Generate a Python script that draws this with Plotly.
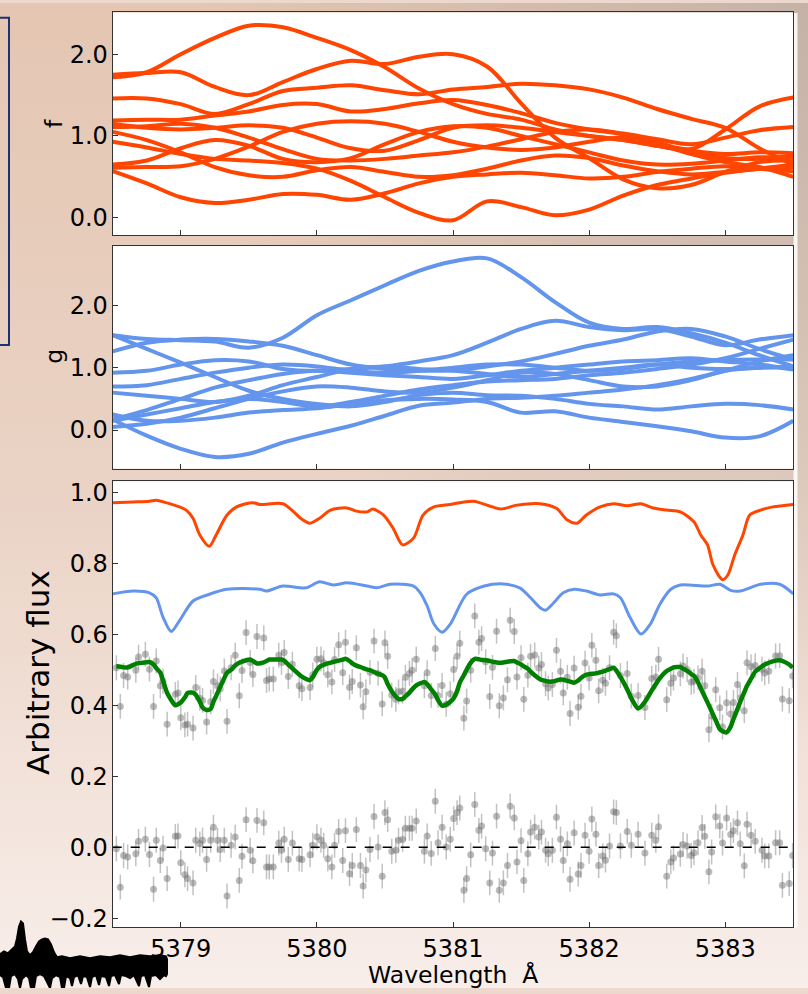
import base64
import plotly.graph_objects as go

W, H = 808, 994

# ---------------------------------------------------------------- data
# wavelength knots shared by the posterior draws of f and g
wave_grid = [5378.50, 5378.75, 5379.00, 5379.25, 5379.50, 5379.75, 5380.00,
             5380.25, 5380.50, 5380.75, 5381.00, 5381.25, 5381.50, 5381.75,
             5382.00, 5382.25, 5382.50, 5382.75, 5383.00, 5383.25, 5383.50]

# posterior draws of f
f01 = [1.72, 1.78, 2.00, 2.20, 2.35, 2.33, 2.20, 2.05, 1.84, 1.58, 1.39, 1.27, 1.20, 1.08, 1.00, 0.95, 0.88, 0.80, 0.73, 0.72, 0.76]
f02 = [1.75, 1.77, 1.78, 1.60, 1.50, 1.66, 1.82, 1.92, 1.88, 1.97, 2.00, 1.85, 1.40, 0.98, 0.73, 0.47, 0.36, 0.40, 0.56, 0.68, 0.70]
f03 = [1.46, 1.46, 1.39, 1.27, 1.39, 1.55, 1.59, 1.62, 1.56, 1.51, 1.57, 1.60, 1.64, 1.62, 1.57, 1.47, 1.33, 1.21, 1.10, 0.85, 0.65]
f04 = [1.19, 1.20, 1.20, 1.25, 1.30, 1.38, 1.39, 1.30, 1.33, 1.40, 1.44, 1.38, 1.28, 1.16, 1.08, 1.02, 0.92, 0.84, 1.08, 1.36, 1.47]
f05 = [1.15, 1.10, 1.08, 1.10, 1.13, 1.10, 0.98, 0.85, 0.82, 0.95, 1.10, 1.13, 1.10, 1.05, 1.00, 0.95, 0.88, 0.82, 0.78, 0.80, 0.79]
f06 = [1.11, 1.12, 1.15, 1.10, 0.98, 0.84, 0.72, 0.70, 0.72, 0.76, 0.80, 0.87, 0.96, 1.05, 1.08, 1.03, 0.96, 0.90, 0.98, 1.07, 1.11]
f07 = [0.93, 0.86, 0.78, 0.72, 0.70, 0.67, 0.60, 0.45, 0.25, 0.06, -0.03, 0.20, 0.13, 0.03, 0.10, 0.27, 0.40, 0.48, 0.55, 0.60, 0.62]
f08 = [0.57, 0.42, 0.25, 0.18, 0.22, 0.29, 0.28, 0.22, 0.30, 0.42, 0.50, 0.53, 0.55, 0.52, 0.48, 0.50, 0.56, 0.60, 0.63, 0.60, 0.57]
f09 = [0.65, 0.70, 0.85, 0.95, 0.88, 0.72, 0.68, 0.73, 0.90, 1.05, 1.12, 1.10, 1.00, 0.90, 0.80, 0.70, 0.65, 0.66, 0.70, 0.74, 0.73]
f10 = [0.61, 0.62, 0.63, 0.72, 0.87, 1.05, 1.15, 1.18, 1.15, 1.05, 0.93, 0.86, 0.83, 0.86, 0.93, 0.98, 0.90, 0.78, 0.68, 0.62, 0.50]
f11 = [1.05, 0.95, 0.80, 0.62, 0.52, 0.50, 0.58, 0.62, 0.56, 0.50, 0.52, 0.60, 0.70, 0.76, 0.73, 0.64, 0.57, 0.53, 0.56, 0.60, 0.65]

# posterior draws of g
g01 = [1.52, 1.46, 1.44, 1.42, 1.32, 1.48, 1.84, 2.08, 2.32, 2.55, 2.70, 2.75, 2.45, 2.05, 1.72, 1.62, 1.65, 1.55, 1.40, 1.20, 1.02]
g02 = [1.52, 1.30, 1.08, 0.85, 0.63, 0.50, 0.42, 0.38, 0.45, 0.56, 0.60, 0.56, 0.55, 0.50, 0.42, 0.38, 0.33, 0.38, 0.42, 0.40, 0.33]
g03 = [1.26, 1.40, 1.45, 1.46, 1.42, 1.35, 1.20, 1.05, 0.98, 0.95, 0.96, 1.02, 1.10, 1.22, 1.35, 1.45, 1.58, 1.62, 1.50, 1.30, 1.13]
g04 = [0.92, 0.95, 1.05, 1.12, 1.10, 0.98, 0.95, 0.98, 1.02, 1.10, 1.20, 1.40, 1.62, 1.75, 1.65, 1.60, 1.62, 1.50, 1.36, 1.45, 1.52]
g05 = [0.70, 0.72, 0.82, 0.92, 1.00, 1.05, 1.02, 0.95, 0.92, 0.95, 1.00, 1.05, 1.05, 1.00, 0.95, 0.98, 1.05, 1.10, 1.12, 1.13, 1.13]
g06 = [0.60, 0.55, 0.50, 0.45, 0.55, 0.72, 0.85, 0.98, 1.02, 0.98, 0.95, 0.90, 0.85, 0.90, 0.95, 1.00, 1.05, 1.00, 0.98, 1.00, 1.02]
g07 = [0.17, 0.32, 0.50, 0.68, 0.80, 0.90, 0.95, 0.92, 0.88, 0.85, 0.82, 0.88, 0.95, 1.00, 1.05, 1.10, 1.12, 1.15, 1.10, 1.05, 0.97]
g08 = [0.15, 0.25, 0.35, 0.45, 0.50, 0.45, 0.38, 0.45, 0.55, 0.65, 0.72, 0.78, 0.80, 0.82, 0.88, 0.92, 0.98, 1.05, 1.15, 1.30, 1.45]
g09 = [0.17, -0.09, -0.30, -0.43, -0.38, -0.20, -0.06, 0.07, 0.23, 0.39, 0.44, 0.50, 0.52, 0.55, 0.60, 0.65, 0.72, 0.82, 0.95, 1.10, 1.20]
g10 = [0.25, 0.15, 0.15, 0.20, 0.28, 0.32, 0.35, 0.42, 0.48, 0.50, 0.49, 0.45, 0.28, 0.30, 0.20, 0.13, 0.06, -0.02, -0.12, -0.10, 0.15]
g11 = [0.05, 0.10, 0.20, 0.35, 0.50, 0.62, 0.70, 0.68, 0.62, 0.60, 0.68, 0.80, 0.92, 0.90, 0.80, 0.70, 0.70, 0.80, 0.95, 1.00, 1.00]

# component spectra (f and g) shifted for display
f_spec_wave = [5378.50, 5378.65, 5378.77, 5378.82, 5378.89, 5378.99, 5379.04, 5379.09, 5379.14, 5379.21,
               5379.26, 5379.34, 5379.41, 5379.53, 5379.58, 5379.75, 5379.83, 5379.88, 5379.95, 5380.02,
               5380.10, 5380.22, 5380.29, 5380.37, 5380.41, 5380.49, 5380.56, 5380.63, 5380.71, 5380.78,
               5380.86, 5380.98, 5381.15, 5381.35, 5381.47, 5381.64, 5381.76, 5381.84, 5381.91, 5381.98,
               5382.08, 5382.18, 5382.28, 5382.38, 5382.47, 5382.57, 5382.67, 5382.77, 5382.82, 5382.87,
               5382.91, 5382.98, 5383.02, 5383.07, 5383.13, 5383.18, 5383.26, 5383.35, 5383.50]
f_spec_flux = [0.971, 0.973, 0.975, 0.978, 0.971, 0.959, 0.950, 0.927, 0.880, 0.848,
               0.880, 0.936, 0.959, 0.971, 0.966, 0.968, 0.945, 0.927, 0.913, 0.927,
               0.950, 0.956, 0.947, 0.945, 0.953, 0.936, 0.899, 0.852, 0.871, 0.936,
               0.959, 0.966, 0.975, 0.953, 0.964, 0.968, 0.955, 0.922, 0.913, 0.936,
               0.959, 0.968, 0.962, 0.968, 0.956, 0.950, 0.945, 0.917, 0.880, 0.852,
               0.796, 0.754, 0.768, 0.824, 0.880, 0.936, 0.950, 0.959, 0.966]

g_spec_wave = [5378.50, 5378.65, 5378.77, 5378.82, 5378.87, 5378.93, 5378.99, 5379.09, 5379.21, 5379.34,
               5379.58, 5379.63, 5379.75, 5379.92, 5380.02, 5380.12, 5380.22, 5380.37, 5380.44, 5380.54,
               5380.71, 5380.76, 5380.81, 5380.86, 5380.92, 5380.98, 5381.10, 5381.23, 5381.37, 5381.49,
               5381.57, 5381.64, 5381.68, 5381.74, 5381.81, 5381.89, 5381.98, 5382.08, 5382.18, 5382.23,
               5382.30, 5382.38, 5382.45, 5382.52, 5382.60, 5382.67, 5382.87, 5382.96, 5383.04, 5383.11,
               5383.26, 5383.40, 5383.50]
g_spec_flux = [0.714, 0.722, 0.717, 0.703, 0.648, 0.608, 0.638, 0.694, 0.713, 0.727,
               0.727, 0.722, 0.736, 0.731, 0.748, 0.739, 0.745, 0.736, 0.731, 0.741,
               0.736, 0.717, 0.680, 0.629, 0.606, 0.629, 0.713, 0.736, 0.742, 0.731,
               0.703, 0.675, 0.668, 0.689, 0.717, 0.727, 0.722, 0.711, 0.714, 0.703,
               0.648, 0.601, 0.629, 0.685, 0.727, 0.739, 0.736, 0.741, 0.724, 0.722,
               0.741, 0.741, 0.714]

# observed spectrum: wavelengths, best-fit model at each pixel, residuals
wave_obs = [
    5378.527, 5378.556, 5378.580, 5378.610, 5378.670, 5378.690, 5378.740, 5378.770, 5378.800, 5378.820,
    5378.850, 5378.870, 5378.900, 5378.960, 5378.980, 5379.000, 5379.030, 5379.050, 5379.090, 5379.110,
    5379.140, 5379.160, 5379.190, 5379.220, 5379.240, 5379.270, 5379.290, 5379.320, 5379.340, 5379.370,
    5379.400, 5379.430, 5379.450, 5379.480, 5379.510, 5379.530, 5379.560, 5379.610, 5379.630, 5379.650,
    5379.680, 5379.720, 5379.740, 5379.760, 5379.790, 5379.820, 5379.870, 5379.890, 5379.950, 5379.970,
    5380.000, 5380.030, 5380.050, 5380.080, 5380.110, 5380.130, 5380.160, 5380.190, 5380.210, 5380.240,
    5380.260, 5380.290, 5380.320, 5380.340, 5380.360, 5380.390, 5380.420, 5380.450, 5380.480, 5380.500,
    5380.520, 5380.550, 5380.580, 5380.600, 5380.630, 5380.650, 5380.680, 5380.700, 5380.730, 5380.790,
    5380.810, 5380.840, 5380.870, 5380.890, 5380.920, 5380.950, 5380.980, 5381.005, 5381.030, 5381.050,
    5381.080, 5381.100, 5381.130, 5381.160, 5381.190, 5381.210, 5381.240, 5381.270, 5381.290, 5381.320,
    5381.340, 5381.370, 5381.400, 5381.420, 5381.450, 5381.470, 5381.500, 5381.520, 5381.550, 5381.570,
    5381.600, 5381.630, 5381.650, 5381.680, 5381.700, 5381.730, 5381.760, 5381.790, 5381.810, 5381.840,
    5381.860, 5381.890, 5381.920, 5381.940, 5381.970, 5382.000, 5382.020, 5382.050, 5382.070, 5382.100,
    5382.120, 5382.150, 5382.180, 5382.200, 5382.230, 5382.280, 5382.310, 5382.360, 5382.410, 5382.460,
    5382.490, 5382.510, 5382.570, 5382.600, 5382.620, 5382.670, 5382.690, 5382.720, 5382.750, 5382.770,
    5382.800, 5382.830, 5382.850, 5382.880, 5382.900, 5382.930, 5382.960, 5382.980, 5383.010, 5383.040,
    5383.060, 5383.090, 5383.110, 5383.140, 5383.160, 5383.190, 5383.220, 5383.270, 5383.290, 5383.320,
    5383.370, 5383.400, 5383.420, 5383.470, 5383.495]

fit_obs = [
    0.510, 0.509, 0.507, 0.507, 0.517, 0.519, 0.521, 0.522, 0.515, 0.505,
    0.492, 0.470, 0.435, 0.400, 0.403, 0.408, 0.422, 0.435, 0.436, 0.430,
    0.410, 0.394, 0.387, 0.390, 0.410, 0.435, 0.452, 0.477, 0.492, 0.500,
    0.512, 0.520, 0.523, 0.527, 0.529, 0.525, 0.518, 0.521, 0.525, 0.529,
    0.529, 0.529, 0.529, 0.526, 0.515, 0.504, 0.487, 0.481, 0.471, 0.480,
    0.500, 0.511, 0.514, 0.518, 0.521, 0.523, 0.526, 0.529, 0.531, 0.525,
    0.518, 0.512, 0.508, 0.505, 0.502, 0.499, 0.494, 0.489, 0.485, 0.478,
    0.460, 0.440, 0.425, 0.418, 0.418, 0.425, 0.436, 0.445, 0.456, 0.466,
    0.460, 0.445, 0.430, 0.415, 0.399, 0.402, 0.410, 0.420, 0.440, 0.464,
    0.485, 0.500, 0.520, 0.531, 0.530, 0.528, 0.527, 0.525, 0.523, 0.521,
    0.520, 0.521, 0.523, 0.524, 0.525, 0.521, 0.515, 0.510, 0.503, 0.495,
    0.485, 0.476, 0.472, 0.469, 0.467, 0.467, 0.470, 0.473, 0.472, 0.469,
    0.467, 0.464, 0.470, 0.477, 0.485, 0.488, 0.489, 0.490, 0.492, 0.495,
    0.498, 0.502, 0.506, 0.498, 0.480, 0.445, 0.420, 0.391, 0.410, 0.442,
    0.460, 0.472, 0.497, 0.503, 0.507, 0.508, 0.503, 0.497, 0.488, 0.483,
    0.465, 0.440, 0.424, 0.400, 0.383, 0.358, 0.333, 0.327, 0.324, 0.340,
    0.361, 0.390, 0.410, 0.437, 0.455, 0.475, 0.495, 0.510, 0.515, 0.520,
    0.526, 0.527, 0.525, 0.515, 0.506]

resid_obs = [
    -0.004, -0.112, -0.023, -0.027, -0.018, 0.017, 0.023, -0.020, -0.118, 0.020,
    -0.037, -0.002, -0.088, 0.031, 0.032, -0.043, -0.077, -0.088, -0.100, 0.020,
    0.010, 0.020, -0.034, 0.020, 0.057, 0.020, -0.006, 0.020, -0.137, 0.006,
    0.029, -0.093, -0.025, 0.078, -0.008, -0.038, 0.076, 0.069, -0.055, -0.055,
    -0.055, 0.012, -0.008, 0.023, -0.034, 0.012, -0.032, -0.034, -0.021, 0.006,
    0.030, 0.020, 0.006, -0.032, -0.055, 0.006, 0.045, -0.037, 0.047, -0.074,
    -0.051, 0.050, -0.051, -0.109, -0.064, -0.006, 0.087, 0.001, -0.081, 0.098,
    0.078, -0.011, -0.008, 0.020, 0.022, 0.054, 0.054, 0.054, 0.074, -0.011,
    0.032, -0.017, 0.130, 0.013, 0.057, 0.001, 0.023, 0.081, 0.098, 0.111,
    -0.121, -0.088, -0.021, 0.121, 0.048, 0.060, -0.004, -0.100, -0.016, 0.088,
    -0.121, -0.100, -0.051, 0.116, 0.083, -0.041, 0.019, -0.093, -0.018, 0.043,
    0.057, 0.029, 0.043, -0.008, -0.018, -0.008, 0.085, 0.023, -0.037, 0.010,
    -0.090, 0.041, -0.075, -0.051, 0.034, -0.011, 0.080, 0.037, -0.051, -0.024,
    -0.036, 0.004, 0.100, 0.098, 0.004, 0.045, 0.006, 0.037, -0.016, 0.034,
    0.020, 0.058, -0.081, -0.041, -0.030, -0.019, 0.008, 0.004, -0.023, -0.015,
    0.013, 0.056, 0.031, -0.069, -0.013, 0.086, 0.060, 0.012, 0.083, 0.036,
    0.047, 0.069, 0.010, -0.052, 0.065, 0.034, 0.017, -0.008, -0.024, -0.024,
    0.013, 0.013, -0.107, -0.102, -0.023]

flux_err = 0.035

# the observed flux is the fit plus its residual
flux_obs = [m + r for m, r in zip(fit_obs, resid_obs)]

# small raw spectrum strip in the lower-left corner (pixel index, counts)
strip_top_x = [0, 4, 8, 12, 15, 17, 19, 21, 23, 25, 27, 30, 33, 36, 39, 42, 45, 48, 51, 54, 57,
               62, 70, 80, 90, 100, 110, 120, 130, 140, 150, 160, 166, 168]
strip_top = [34, 37, 35, 39, 42, 50, 62, 67, 65, 49, 37, 33, 36, 42, 47, 49, 50, 49, 44, 36, 31,
             32, 30, 32, 30, 32, 31, 33, 31, 33, 32, 33, 32, 26]
strip_bot_x = [0, 3, 6, 9, 11, 15, 18, 20, 22, 26, 29, 31, 34, 36, 40, 44, 48, 50, 52, 56, 60, 62,
               64, 66, 70, 72, 74, 78, 81, 83, 87, 90, 92, 96, 99, 101, 106, 109, 111, 115, 119,
               121, 126, 130, 134, 139, 141, 145, 149, 151, 156, 160, 164, 166, 168]
strip_bot = [13, 11, 0, 0, 12, 14, 9, 0, 9, 13, 10, 0, 0, 12, 14, 12, 4, 0, 10, 13, 11, 0,
             0, 12, 10, 2, 11, 13, 4, 12, 11, 1, 11, 13, 3, 12, 11, 2, 12, 13, 4,
             13, 12, 10, 13, 2, 12, 13, 1, 12, 13, 9, 13, 12, 16]

x_ticks = [5379, 5380, 5381, 5382, 5383]

# ---------------------------------------------------------------- styling
ORANGE = "#FF4500"
BLUE = "#6495ED"
GREEN = "#008000"
FONT = "DejaVu Sans"
AXC = "#333333"


def px_x(p):
    return p / W


def px_y(p):
    return 1 - p / H


X_DOM = [px_x(112.7), px_x(793.3)]
F_DOM = [px_y(234.5), px_y(9.5)]
G_DOM = [px_y(470.0), px_y(245.0)]
S_DOM = [px_y(932.7), px_y(482.7)]

fig = go.Figure()

for draw in [f01, f02, f03, f04, f05, f06, f07, f08, f09, f10, f11]:
    fig.add_trace(go.Scatter(x=wave_grid, y=draw, mode="lines", xaxis="x", yaxis="y",
                             line=dict(color=ORANGE, width=4, shape="spline", smoothing=1.0),
                             showlegend=False, hoverinfo="skip"))

for draw in [g01, g02, g03, g04, g05, g06, g07, g08, g09, g10, g11]:
    fig.add_trace(go.Scatter(x=wave_grid, y=draw, mode="lines", xaxis="x2", yaxis="y2",
                             line=dict(color=BLUE, width=4, shape="spline", smoothing=1.0),
                             showlegend=False, hoverinfo="skip"))

point_style = dict(color="rgba(105,105,105,0.45)", size=7, line=dict(width=0))
bar_style = dict(type="constant", value=flux_err, color="rgba(120,120,120,0.45)",
                 thickness=1.5, width=0)

# observed spectrum and residuals
fig.add_trace(go.Scatter(x=wave_obs, y=flux_obs, mode="markers", xaxis="x3", yaxis="y3",
                         marker=point_style, error_y=bar_style, showlegend=False))
fig.add_trace(go.Scatter(x=wave_obs, y=resid_obs, mode="markers", xaxis="x3", yaxis="y3",
                         marker=point_style, error_y=bar_style, showlegend=False))

# component spectra and the combined fit
fig.add_trace(go.Scatter(x=f_spec_wave, y=f_spec_flux, mode="lines", xaxis="x3", yaxis="y3",
                         line=dict(color=ORANGE, width=3, shape="spline", smoothing=0.8),
                         showlegend=False))
fig.add_trace(go.Scatter(x=g_spec_wave, y=g_spec_flux, mode="lines", xaxis="x3", yaxis="y3",
                         line=dict(color=BLUE, width=3, shape="spline", smoothing=0.8),
                         showlegend=False))
fig.add_trace(go.Scatter(x=wave_obs, y=fit_obs, mode="lines", xaxis="x3", yaxis="y3",
                         line=dict(color=GREEN, width=4.5, shape="spline", smoothing=0.6),
                         showlegend=False))

# raw spectrum strip
fig.add_trace(go.Scatter(x=strip_top_x + strip_bot_x[::-1], y=strip_top + strip_bot[::-1],
                         mode="lines", fill="toself", fillcolor="#000000",
                         line=dict(color="#000000", width=2), xaxis="x4", yaxis="y4",
                         showlegend=False, hoverinfo="skip"))

tick_font = dict(family=FONT, size=24, color="#000000")
xcommon = dict(range=[5378.5, 5383.5], domain=X_DOM, tickvals=x_ticks, ticks="inside",
               ticklen=5, tickwidth=1.2, tickcolor=AXC, showline=True, linecolor=AXC,
               linewidth=1.2, mirror=True, showgrid=False, zeroline=False,
               tickfont=tick_font, fixedrange=True)
ycommon = dict(ticks="inside", ticklen=5, tickwidth=1.2, tickcolor=AXC, showline=True,
               linecolor=AXC, linewidth=1.2, mirror=True, showgrid=False, zeroline=False,
               tickfont=tick_font, tickformat=".1f", ticklabelstandoff=-1, fixedrange=True)

# page background: warm gradient with a greyer top-right corner
svg = (
    '<svg xmlns="http://www.w3.org/2000/svg" width="808" height="994" viewBox="0 0 808 994" '
    'preserveAspectRatio="none">'
    '<defs>'
    '<linearGradient id="v" x1="0" y1="0" x2="0" y2="1">'
    '<stop offset="0" stop-color="#e4c6b2"/>'
    '<stop offset="0.5" stop-color="#ead3c5"/>'
    '<stop offset="1" stop-color="#f8eeea"/>'
    '</linearGradient>'
    '<radialGradient id="r" cx="1" cy="0" r="0.75">'
    '<stop offset="0" stop-color="#b4a8a2" stop-opacity="0.65"/>'
    '<stop offset="1" stop-color="#b4a8a2" stop-opacity="0"/>'
    '</radialGradient>'
    '</defs>'
    '<rect width="808" height="994" fill="url(#v)"/>'
    '<rect width="808" height="994" fill="url(#r)"/>'
    '</svg>'
)
bg_src = "data:image/svg+xml;base64," + base64.b64encode(svg.encode()).decode()

panel_shapes = []
for dom in (F_DOM, G_DOM, S_DOM):
    panel_shapes.append(dict(type="rect", xref="paper", yref="paper", x0=X_DOM[0], x1=X_DOM[1],
                             y0=dom[0], y1=dom[1], fillcolor="#ffffff", line=dict(width=0),
                             layer="below"))
panel_shapes.append(dict(type="rect", xref="paper", yref="paper", x0=px_x(793.5), x1=px_x(797.5),
                         y0=px_y(933), y1=px_y(10), fillcolor="rgba(255,255,255,0.85)",
                         line=dict(width=0), layer="below"))
panel_shapes.append(dict(type="rect", xref="paper", yref="paper", x0=-0.02, x1=px_x(9),
                         y0=px_y(345), y1=px_y(15), fillcolor="rgba(0,0,0,0)",
                         line=dict(color="#1c3372", width=2), layer="below"))
panel_shapes.append(dict(type="line", xref="x3", yref="y3", x0=5378.5, x1=5383.5, y0=0, y1=0,
                         line=dict(color="#000000", width=1.5, dash="dash"), layer="above"))

label_font = dict(family=FONT, size=23.5, color="#000000")
annotations = [
    dict(text="f", x=px_x(54), y=px_y(122), xref="paper", yref="paper", textangle=-90,
         showarrow=False, font=label_font, xanchor="center", yanchor="middle"),
    dict(text="g", x=px_x(54), y=px_y(357), xref="paper", yref="paper", textangle=-90,
         showarrow=False, font=label_font, xanchor="center", yanchor="middle"),
    dict(text="Arbitrary flux", x=px_x(38), y=px_y(676), xref="paper", yref="paper",
         textangle=-90, showarrow=False, font=dict(family=FONT, size=31, color="#000000"),
         xanchor="center", yanchor="middle"),
    dict(text="Wavelength\u00a0\u00a0Å", x=px_x(453), y=px_y(981), xref="paper", yref="paper",
         showarrow=False, font=label_font, xanchor="center", yanchor="middle", borderpad=0),
]

fig.update_layout(
    width=W, height=H,
    margin=dict(l=0, r=0, t=0, b=0),
    paper_bgcolor="#ecd8cc",
    plot_bgcolor="rgba(0,0,0,0)",
    showlegend=False,
    font=dict(family=FONT, size=24, color="#000000"),
    images=[dict(source=bg_src, xref="paper", yref="paper", x=0, y=1, sizex=1, sizey=1,
                 xanchor="left", yanchor="top", sizing="stretch", layer="below")],
    shapes=panel_shapes,
    annotations=annotations,
    xaxis=dict(xcommon, anchor="y", showticklabels=False),
    xaxis2=dict(xcommon, anchor="y2", showticklabels=False),
    xaxis3=dict(xcommon, anchor="y3", showticklabels=True),
    yaxis=dict(ycommon, domain=F_DOM, anchor="x", range=[-0.216, 2.512], tickvals=[0, 1, 2]),
    yaxis2=dict(ycommon, domain=G_DOM, anchor="x2", range=[-0.619, 2.952], tickvals=[0, 1, 2]),
    yaxis3=dict(ycommon, domain=S_DOM, anchor="x3", range=[-0.225, 1.031],
                tickvals=[-0.2, 0.0, 0.2, 0.4, 0.6, 0.8, 1.0]),
    xaxis4=dict(domain=[0, px_x(168)], range=[0, 168], visible=False, anchor="y4",
                fixedrange=True),
    yaxis4=dict(domain=[0, 70 / H], range=[0, 70], visible=False, anchor="x4",
                fixedrange=True),
)

fig.write_html("out.html")
